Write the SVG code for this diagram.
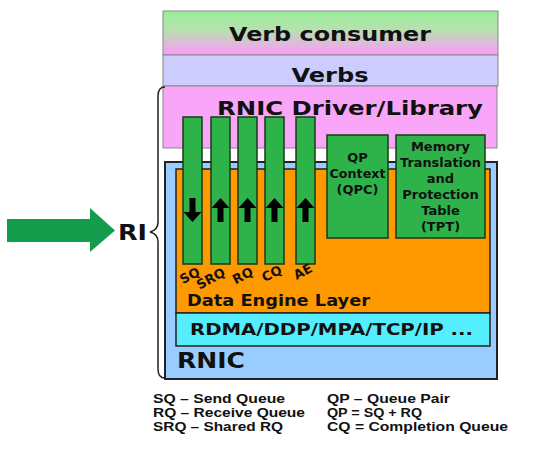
<svg xmlns="http://www.w3.org/2000/svg" width="540" height="460" viewBox="0 0 540 460">
<defs>
<linearGradient id="gc" x1="0" y1="0" x2="0" y2="1">
<stop offset="0" stop-color="#99ee99"/>
<stop offset="0.45" stop-color="#b8e0b0"/>
<stop offset="1" stop-color="#ff99ff"/>
</linearGradient>
</defs>
<style>
text{font-family:"DejaVu Sans","Liberation Sans",Arial,sans-serif;font-weight:bold;fill:#111}
.col{fill:#2db34a;stroke:#1a3a1a;stroke-width:1.5}
.ar{fill:#000}
.lab{font-size:13px}
.bx{font-size:13px}
.leg{font-family:"Liberation Sans",Arial,sans-serif;font-size:12.2px}
.hd{font-size:20px}
</style>
<rect width="540" height="460" fill="#fff"/>

<g id="verb-consumer">
<rect x="163" y="11" width="335" height="44" fill="url(#gc)" stroke="#888" stroke-width="1"/>
<text x="330" y="41" class="hd" text-anchor="middle" textLength="202" lengthAdjust="spacingAndGlyphs">Verb consumer</text>
</g>
<g id="verbs">
<rect x="163" y="55" width="335" height="31" fill="#ccccff" stroke="#888" stroke-width="1"/>
<text x="330" y="82" class="hd" text-anchor="middle" textLength="77" lengthAdjust="spacingAndGlyphs">Verbs</text>
</g>
<g id="driver">
<rect x="163" y="86" width="334" height="62" fill="#f9a6f9" stroke="#888" stroke-width="1"/>
<text x="217" y="115" class="hd" textLength="266" lengthAdjust="spacingAndGlyphs">RNIC Driver/Library</text>
</g>

<g id="rnic">
<rect x="165" y="162" width="332" height="217" fill="#99ccff" stroke="#222" stroke-width="2"/>
<text x="177" y="368" style="font-size:22px" textLength="68" lengthAdjust="spacingAndGlyphs">RNIC</text>
</g>
<g id="data-engine">
<rect x="176" y="169" width="314" height="144" fill="#ff9900" stroke="#222" stroke-width="1.5"/>
<text x="187" y="306" style="font-size:16px" textLength="183" lengthAdjust="spacingAndGlyphs">Data Engine Layer</text>
</g>
<g id="protocol">
<rect x="176" y="313" width="314" height="33" fill="#55eeff" stroke="#222" stroke-width="1.5"/>
<text x="190" y="335" style="font-size:15px" textLength="283" lengthAdjust="spacingAndGlyphs">RDMA/DDP/MPA/TCP/IP ...</text>
</g>

<g id="sq">
<rect class="col" x="183" y="117" width="19" height="147"/>
<path class="ar" d="M189.5 198h6v14h6l-9 10l-9-10h6z"/>
<text class="lab" transform="translate(190,276) rotate(-28)" text-anchor="middle" y="4">SQ</text>
</g>
<g id="srq">
<rect class="col" x="211" y="117" width="19" height="147"/>
<path class="ar" d="M217.5 222h6v-14h6l-9-10l-9 10h6z"/>
<text class="lab" transform="translate(211,279) rotate(-28)" text-anchor="middle" y="4">SRQ</text>
</g>
<g id="rq">
<rect class="col" x="238" y="117" width="19" height="147"/>
<path class="ar" d="M244.5 222h6v-14h6l-9-10l-9 10h6z"/>
<text class="lab" transform="translate(243,276) rotate(-28)" text-anchor="middle" y="4">RQ</text>
</g>
<g id="cq">
<rect class="col" x="265" y="117" width="19" height="147"/>
<path class="ar" d="M271.5 222h6v-14h6l-9-10l-9 10h6z"/>
<text class="lab" transform="translate(272,274) rotate(-28)" text-anchor="middle" y="4">CQ</text>
</g>
<g id="ae">
<rect class="col" x="296" y="117" width="19" height="147"/>
<path class="ar" d="M302.5 222h6v-14h6l-9-10l-9 10h6z"/>
<text class="lab" transform="translate(303,272) rotate(-28)" text-anchor="middle" y="4">AE</text>
</g>

<g id="qpc">
<rect class="col" x="327" y="135" width="61" height="103"/>
<text class="bx" x="357.5" y="162" text-anchor="middle">QP</text>
<text class="bx" x="357.5" y="178" text-anchor="middle" textLength="56" lengthAdjust="spacingAndGlyphs">Context</text>
<text class="bx" x="357.5" y="194" text-anchor="middle">(QPC)</text>
</g>
<g id="tpt">
<rect class="col" x="396" y="135" width="89" height="103"/>
<text class="bx" x="440.5" y="151" text-anchor="middle">Memory</text>
<text class="bx" x="440.5" y="167" text-anchor="middle" textLength="81" lengthAdjust="spacingAndGlyphs">Translation</text>
<text class="bx" x="440.5" y="183" text-anchor="middle">and</text>
<text class="bx" x="440.5" y="199" text-anchor="middle">Protection</text>
<text class="bx" x="440.5" y="215" text-anchor="middle">Table</text>
<text class="bx" x="440.5" y="231" text-anchor="middle">(TPT)</text>
</g>

<g id="connectors">
<path d="M7 219H90V208L115 230.5L90 252V242H7Z" fill="#139c4b"/>
<path d="M165 87Q158 87 158 96V222Q158 230 150 232Q158 234 158 242V369Q158 378 165 378" fill="none" stroke="#222" stroke-width="1.5"/>
</g>
<g id="ri">
<text x="118" y="240" style="font-size:21px" textLength="29" lengthAdjust="spacingAndGlyphs">RI</text>
</g>

<g id="legend">
<text class="leg" x="153" y="403" textLength="132" lengthAdjust="spacingAndGlyphs">SQ – Send Queue</text>
<text class="leg" x="153" y="417" textLength="152" lengthAdjust="spacingAndGlyphs">RQ – Receive Queue</text>
<text class="leg" x="153" y="431" textLength="130" lengthAdjust="spacingAndGlyphs">SRQ – Shared RQ</text>
<text class="leg" x="327" y="403" textLength="123" lengthAdjust="spacingAndGlyphs">QP – Queue Pair</text>
<text class="leg" x="327" y="417" textLength="95" lengthAdjust="spacingAndGlyphs">QP = SQ + RQ</text>
<text class="leg" x="327" y="431" textLength="181" lengthAdjust="spacingAndGlyphs">CQ = Completion Queue</text>
</g>
</svg>
